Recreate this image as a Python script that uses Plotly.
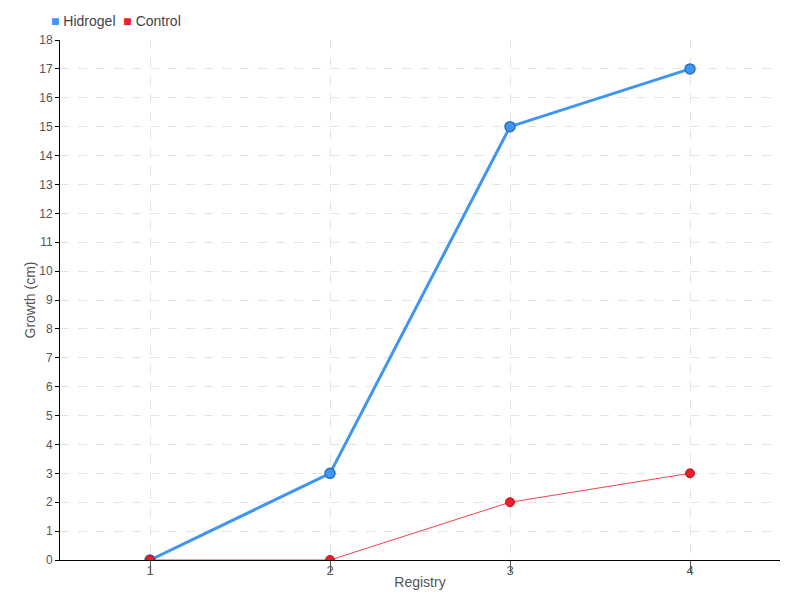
import plotly.graph_objects as go

registry = [1, 2, 3, 4]
hidrogel = [0, 3, 15, 17]
control = [0, 0, 2, 3]

blue = "#3f95f2"
red = "#ee1c2c"

fig = go.Figure()
fig.add_trace(go.Scatter(
    x=registry, y=hidrogel, name="Hidrogel", mode="lines+markers",
    line=dict(color=blue, width=3),
    marker=dict(size=10, color=blue, line=dict(color="#2a6fc0", width=1.5)),
))
fig.add_trace(go.Scatter(
    x=registry, y=control, name="Control", mode="lines+markers",
    line=dict(color="#f2404d", width=1),
    marker=dict(size=9, color=red, line=dict(color="#c0101a", width=1)),
))

# compact legend drawn as text
legend_text = (f"<span style='color:{blue}'>■</span> Hidrogel  "
               f"<span style='color:{red}'>■</span> Control")
fig.add_annotation(text=legend_text, xref="paper", yref="paper", x=-0.015, y=1.0,
                   xanchor="left", yanchor="bottom", yshift=9, showarrow=False,
                   font=dict(size=14, color="#444444"))

font_family = "Liberation Sans, sans-serif"
fig.update_layout(
    width=800, height=600, showlegend=False,
    margin=dict(l=60, r=20, t=40, b=40, autoexpand=False),
    paper_bgcolor="white", plot_bgcolor="white",
    font=dict(family=font_family, size=13, color="#555555"),
    xaxis=dict(
        range=[0.5, 4.5], tickvals=registry, ticks="outside", ticklen=12,
        ticklabelstandoff=-14,
        tickcolor="#555555", showline=True, linecolor="black", linewidth=1,
        showgrid=True, gridcolor="#e3e3e3", griddash="dash", zeroline=False,
        automargin=False, title=dict(text="Registry", standoff=0, font=dict(size=14)),
    ),
    yaxis=dict(
        range=[0, 18], dtick=1, ticks="outside", ticklen=4, tickcolor="black",
        tickfont=dict(size=12),
        showline=True, linecolor="black", linewidth=1,
        showgrid=True, gridcolor="#e3e3e3", griddash="dash", zeroline=False,
        automargin=False, title=dict(text="Growth (cm)", standoff=0, font=dict(size=14)),
    ),
)

fig.write_html("out.html", config={"displayModeBar": False},
               post_script="document.body.style.margin='0';")
